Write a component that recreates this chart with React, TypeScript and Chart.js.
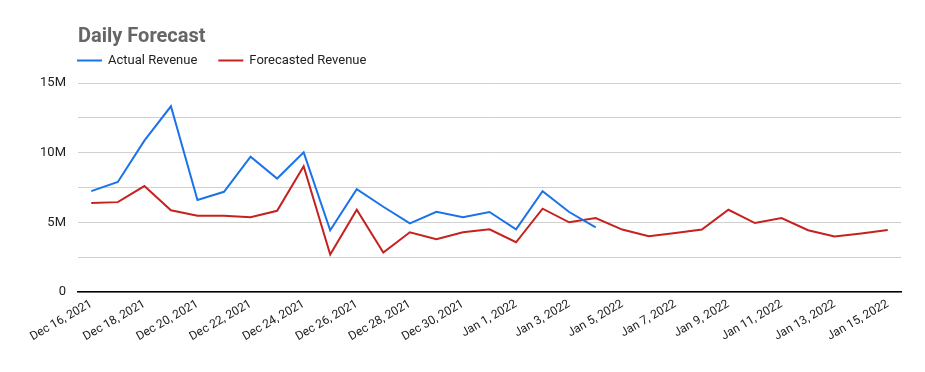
import React, { useEffect, useRef } from "react";
import { Chart, registerables } from "chart.js";

Chart.register(...registerables);

const dates: string[] = [
  "Dec 16, 2021", "Dec 17, 2021", "Dec 18, 2021", "Dec 19, 2021", "Dec 20, 2021",
  "Dec 21, 2021", "Dec 22, 2021", "Dec 23, 2021", "Dec 24, 2021", "Dec 25, 2021",
  "Dec 26, 2021", "Dec 27, 2021", "Dec 28, 2021", "Dec 29, 2021", "Dec 30, 2021",
  "Dec 31, 2021", "Jan 1, 2022", "Jan 2, 2022", "Jan 3, 2022", "Jan 4, 2022",
  "Jan 5, 2022", "Jan 6, 2022", "Jan 7, 2022", "Jan 8, 2022", "Jan 9, 2022",
  "Jan 10, 2022", "Jan 11, 2022", "Jan 12, 2022", "Jan 13, 2022", "Jan 14, 2022",
  "Jan 15, 2022",
];

const actualRevenue: (number | null)[] = [
  7.24, 7.9, 10.86, 13.33, 6.6, 7.19, 9.71, 8.14, 10.02, 4.43,
  7.38, 6.12, 4.93, 5.76, 5.36, 5.74, 4.5, 7.24, 5.74, 4.64,
  null, null, null, null, null, null, null, null, null, null, null,
].map((v) => (v === null ? null : v * 1e6));

const forecastedRevenue: number[] = [
  6.38, 6.45, 7.6, 5.86, 5.48, 5.48, 5.36, 5.83, 9.02, 2.69,
  5.9, 2.83, 4.29, 3.79, 4.29, 4.5, 3.57, 5.98, 5.0, 5.31,
  4.48, 4.0, 4.24, 4.48, 5.9, 4.95, 5.31, 4.43, 3.98, 4.2, 4.45,
].map((v) => v * 1e6);

const seriesNames = ["Actual Revenue", "Forecasted Revenue"];
const seriesColors = ["#1a73e8", "#c5221f"];
const chartTitle = "Daily Forecast";
const yMax = 15e6;
const yStep = 2.5e6;

const FONT = "Roboto, 'Noto Sans', sans-serif";

const customLegend = {
  id: "customLegend",
  afterDraw(chart: any) {
    const ctx = chart.ctx;
    const y = 60.5;
    let x = chart.chartArea.left - 1;
    ctx.save();
    ctx.font = `13px ${FONT}`;
    ctx.textBaseline = "middle";
    ctx.textAlign = "left";
    chart.data.datasets.forEach((ds: any) => {
      ctx.strokeStyle = ds.borderColor;
      ctx.lineWidth = 2;
      ctx.beginPath();
      ctx.moveTo(x, y);
      ctx.lineTo(x + 25, y);
      ctx.stroke();
      x += 31;
      ctx.fillStyle = "#222";
      ctx.fillText(ds.label, x, y);
      x += ctx.measureText(ds.label).width + 21;
    });
    ctx.restore();
  },
};

export default function App() {
  const ref = useRef<HTMLCanvasElement | null>(null);

  useEffect(() => {
    if (!ref.current) return;
    const chart = new Chart(ref.current, {
      type: "line",
      data: {
        labels: dates,
        datasets: [
          {
            label: seriesNames[0],
            data: actualRevenue,
            borderColor: seriesColors[0],
            backgroundColor: seriesColors[0],
            borderWidth: 2,
            pointRadius: 0,
            tension: 0,
            spanGaps: false,
          },
          {
            label: seriesNames[1],
            data: forecastedRevenue,
            borderColor: seriesColors[1],
            backgroundColor: seriesColors[1],
            borderWidth: 2,
            pointRadius: 0,
            tension: 0,
          },
        ],
      },
      plugins: [customLegend],
      options: {
        animation: false,
        responsive: true,
        maintainAspectRatio: false,
        layout: { padding: { left: 0, right: 24, top: 0, bottom: 0 } },
        plugins: {
          legend: { display: false },
          tooltip: { enabled: false },
          title: {
            display: true,
            text: chartTitle,
            align: "start",
            fullSize: false,
            color: "#666",
            font: { family: FONT, size: 20, weight: "bold" },
            padding: { top: 25, bottom: 34 },
          },
        },
        scales: {
          x: {
            offset: true,
            grid: { display: false, drawTicks: false },
            border: { display: true, color: "#000", width: 1.5 },
            ticks: {
              autoSkip: false,
              maxRotation: 30,
              minRotation: 30,
              padding: 5,
              color: "#222",
              font: { family: FONT, size: 12 },
              callback: (_v: any, i: number) => (i % 2 === 0 ? dates[i] : ""),
            },
            afterFit: (s: any) => {
              s.height = 80;
            },
          },
          y: {
            min: 0,
            max: yMax,
            grid: { color: "#d0d0d0", drawTicks: false, lineWidth: 1 },
            border: { display: false },
            ticks: {
              stepSize: yStep,
              padding: 12,
              color: "#222",
              font: { family: FONT, size: 13 },
              callback: (v: any) => {
                const n = Number(v);
                if (n === 0) return "0";
                if (n % 5e6 !== 0) return "";
                return n / 1e6 + "M";
              },
            },
            afterFit: (s: any) => {
              s.width = 78;
            },
          },
        },
      },
    });
    return () => chart.destroy();
  }, []);

  return (
    <div style={{ position: "absolute", left: 0, top: 0, width: 925, height: 372, background: "#fff" }}>
      <canvas ref={ref} />
    </div>
  );
}
